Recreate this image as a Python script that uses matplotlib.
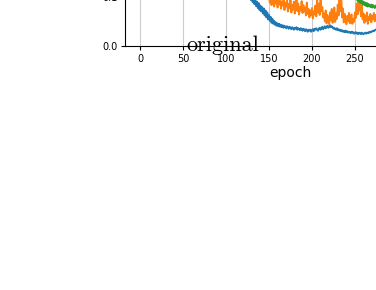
import matplotlib
matplotlib.use("Agg")
import matplotlib.pyplot as plt
from matplotlib.ticker import MultipleLocator

# ---- data (loss per epoch, only the visible tail is dense) ----
blue_epochs = [0, 20, 40, 60, 80, 100, 110, 120] + list(range(124, 277))
blue_vals = [0.62, 0.45, 0.34, 0.26, 0.20, 0.16, 0.135, 0.115,
             0.112, 0.101, 0.109, 0.097, 0.106, 0.093, 0.101, 0.089, 0.098, 0.085,
             0.094, 0.081, 0.090, 0.077, 0.087, 0.073, 0.082, 0.070, 0.079, 0.066,
             0.076, 0.062, 0.072, 0.058, 0.068, 0.054, 0.063, 0.051, 0.059, 0.047,
             0.055, 0.045, 0.051, 0.043, 0.048, 0.041, 0.046, 0.040, 0.045, 0.039,
             0.043, 0.038, 0.042, 0.037, 0.041, 0.039, 0.036, 0.040, 0.038, 0.035,
             0.039, 0.037, 0.034, 0.038, 0.036, 0.033, 0.037, 0.035, 0.038, 0.033,
             0.036, 0.035, 0.032, 0.036, 0.034, 0.031, 0.035, 0.033, 0.030, 0.034,
             0.032, 0.029, 0.033, 0.031, 0.033, 0.029, 0.032, 0.034, 0.030, 0.035,
             0.033, 0.036, 0.033, 0.031, 0.035, 0.037, 0.033, 0.036, 0.039, 0.034,
             0.037, 0.040, 0.036, 0.038, 0.041, 0.037, 0.039, 0.042, 0.038, 0.040,
             0.038, 0.035, 0.037, 0.034, 0.033, 0.036, 0.032, 0.034, 0.031, 0.033,
             0.030, 0.032, 0.029, 0.031, 0.028, 0.031, 0.028, 0.030, 0.027, 0.029,
             0.028, 0.026, 0.029, 0.027, 0.028, 0.025, 0.027, 0.028, 0.025, 0.027,
             0.024, 0.027, 0.026, 0.024, 0.027, 0.025, 0.024, 0.026, 0.027, 0.025,
             0.027, 0.026, 0.028, 0.027, 0.029, 0.028, 0.030, 0.031, 0.030, 0.032,
             0.033, 0.034, 0.035]

orange_epochs = [0, 40, 80, 110, 130, 140] + list(range(150, 277))
orange_vals = [0.70, 0.40, 0.25, 0.17, 0.13, 0.115,
               0.102, 0.088, 0.097, 0.083, 0.105, 0.091, 0.080, 0.099, 0.086, 0.094,
               0.078, 0.092, 0.084, 0.101, 0.076, 0.089, 0.082, 0.095, 0.073, 0.087,
               0.080, 0.093, 0.070, 0.085, 0.077, 0.097, 0.068, 0.083, 0.074, 0.090,
               0.066, 0.081, 0.094, 0.071, 0.086, 0.064, 0.079, 0.072, 0.091, 0.067,
               0.083, 0.070, 0.078, 0.062, 0.088, 0.065, 0.075, 0.058, 0.072, 0.063,
               0.077, 0.056, 0.070, 0.064, 0.082, 0.060, 0.094, 0.068, 0.086, 0.063,
               0.097, 0.071, 0.079, 0.058, 0.066, 0.050, 0.072, 0.046, 0.063, 0.054,
               0.044, 0.068, 0.052, 0.075, 0.047, 0.061, 0.078, 0.049, 0.066, 0.055,
               0.084, 0.062, 0.098, 0.071, 0.104, 0.058, 0.076, 0.048, 0.065, 0.052,
               0.044, 0.061, 0.050, 0.067, 0.046, 0.058, 0.064, 0.045, 0.055, 0.049,
               0.068, 0.057, 0.086, 0.064, 0.101, 0.072, 0.093, 0.060, 0.082, 0.054,
               0.066, 0.047, 0.062, 0.051, 0.068, 0.045, 0.059, 0.053, 0.065, 0.048,
               0.061, 0.055, 0.067, 0.050, 0.063, 0.052, 0.060]

green_epochs = [0, 100, 200, 230, 240] + list(range(248, 277))
green_vals = [0.80, 0.30, 0.15, 0.12, 0.11,
              0.106, 0.098, 0.103, 0.095, 0.100, 0.092, 0.097, 0.089, 0.094, 0.087,
              0.092, 0.084, 0.090, 0.083, 0.088, 0.081, 0.087, 0.080, 0.085, 0.082,
              0.079, 0.084, 0.078, 0.083, 0.080, 0.077, 0.082, 0.079, 0.081]

x_ticks = [0, 50, 100, 150, 200, 250, 300, 350]

fig = plt.figure(figsize=(3.76, 2.9), dpi=100)
# the axes runs off the top and right edge of the figure, like in the reference
ax = fig.add_axes([0.3324, 0.8414, 0.878, 1.70])

ax.plot(blue_epochs, blue_vals, color='tab:blue', lw=1.4)
ax.plot(orange_epochs, orange_vals, color='tab:orange', lw=1.4)
ax.plot(green_epochs, green_vals, color='tab:green', lw=1.4)

ax.set_xlim(-17.5, 366.5)
ax.set_ylim(0, 1.0)
ax.set_xticks(x_ticks)
ax.yaxis.set_major_locator(MultipleLocator(0.1))
ax.tick_params(labelsize=7, length=3, pad=2.5)
ax.grid(axis='x', color='#cccccc', lw=0.8)
ax.set_xlabel('epoch', fontsize=10, labelpad=2)

fig.text(0.592, 0.824, 'original', fontfamily='cmr10', fontsize=16,
         ha='center', va='baseline')

fig.savefig('out.png', dpi=100)
